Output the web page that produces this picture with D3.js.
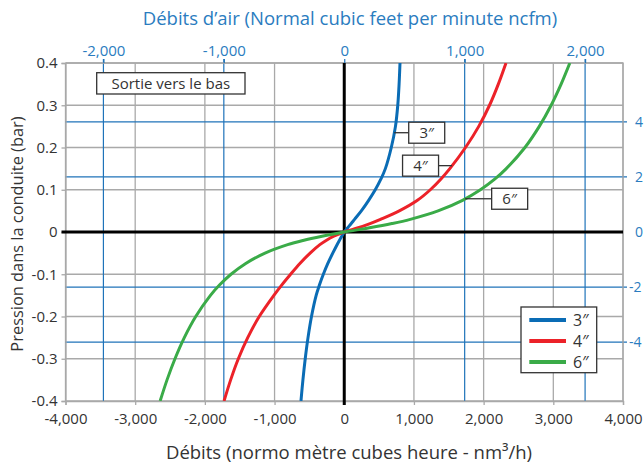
<!DOCTYPE html>
<html><head><meta charset="utf-8">
<script src="https://cdn.jsdelivr.net/npm/d3@7"></script>
<style>
body{margin:0;background:#fff}
svg{display:block;font-family:"Open Sans",sans-serif}
</style>
</head><body>
<svg id="chart" width="644" height="466"></svg>
<script>
// Pressure levels (bar) at which the flow of each pipe size is read
const pressures = [-0.4, -0.35, -0.3, -0.25, -0.2, -0.15, -0.125, -0.1, -0.075, -0.05, -0.03, -0.02, -0.01, 0,
                   0.01, 0.02, 0.03, 0.05, 0.075, 0.1, 0.125, 0.15, 0.2, 0.25, 0.3, 0.35, 0.4];
// Flow (nm³/h) for each pipe diameter at those pressures
const flow3in = [-621, -593, -560, -520, -470, -403, -355, -300, -237, -165, -103, -70, -35, 0,
                 50, 100, 148, 245, 350, 445, 525, 590, 675, 735, 768, 787, 800];
const flow4in = [-1725, -1630, -1520, -1385, -1220, -1010, -895, -770, -640, -490, -350, -260, -150, 0,
                 200, 370, 520, 790, 1050, 1235, 1385, 1515, 1740, 1930, 2085, 2211, 2321];
const flow6in = [-2642, -2543, -2429, -2295, -2131, -1920, -1787, -1625, -1419, -1137, -812, -592, -319, 0,
                 363, 683, 947, 1346, 1697, 1954, 2159, 2325, 2593, 2799, 2969, 3112, 3237];
const seriesNames = ["3″", "4″", "6″"];
const seriesColors = ["#0a6cb5", "#ec2229", "#3aab48"];
// Where each curve label is pinned (flow nm³/h, pressure bar)
const labelFlow = [717, 1547, 1735];
const labelPressure = [0.235, 0.157, 0.0787];

const flowTicks = [-4000, -3000, -2000, -1000, 0, 1000, 2000, 3000, 4000];
const pressureTicks = [-0.4, -0.3, -0.2, -0.1, 0, 0.1, 0.2, 0.3, 0.4];
const ncfmTicks = [-2000, -1000, 0, 1000, 2000];
const rightTicks = [-4, -2, 0, 2, 4];
const ncfmToNm3h = 1.728;
const rightUnitToBar = 0.0652;

const svg = d3.select("#chart");
const L = 65.5, R = 623, T = 63, B = 401;
const gray = "#a9a9a9", blue = "#1f73b9", blueText = "#2a7cc0", ink = "#333";

const x = d3.scaleLinear().domain([-4000, 4000]).range([L, R]);
const y = d3.scaleLinear().domain([-0.4, 0.4]).range([B, T]);
const xTop = d3.scaleLinear().domain([-4000 / ncfmToNm3h, 4000 / ncfmToNm3h]).range([L, R]);
const yRight = d3.scaleLinear().domain([-0.4 / rightUnitToBar, 0.4 / rightUnitToBar]).range([B, T]);

const fmt = f => d => f(d).replace("−", "-");

// gray grid
const grid = svg.append("g");
grid.selectAll(".gx").data(flowTicks.filter(d => d !== 0)).join("line")
  .attr("x1", d => x(d)).attr("x2", d => x(d)).attr("y1", T).attr("y2", B)
  .attr("stroke", gray).attr("stroke-width", 1.3);
grid.selectAll(".gy").data(pressureTicks.filter(d => d !== 0)).join("line")
  .attr("x1", L).attr("x2", R).attr("y1", d => y(d)).attr("y2", d => y(d))
  .attr("stroke", gray).attr("stroke-width", 1.3);
// blue grid for the secondary units
grid.selectAll(".bx").data(ncfmTicks.filter(d => d !== 0)).join("line")
  .attr("x1", d => xTop(d)).attr("x2", d => xTop(d)).attr("y1", T - 4).attr("y2", B)
  .attr("stroke", blue).attr("stroke-width", 1.2);
grid.selectAll(".by").data(rightTicks.filter(d => d !== 0)).join("line")
  .attr("x1", L).attr("x2", R + 4).attr("y1", d => yRight(d)).attr("y2", d => yRight(d))
  .attr("stroke", blue).attr("stroke-width", 1.2);
// frame top/right
svg.append("path").attr("d", `M${L},${T}H${R}V${B}`).attr("fill", "none").attr("stroke", gray).attr("stroke-width", 1.3);

// axes
const ax = svg.append("g").attr("transform", `translate(0,${B})`)
  .call(d3.axisBottom(x).tickValues(flowTicks).tickSize(4).tickPadding(5).tickFormat(fmt(d3.format(","))));
const ay = svg.append("g").attr("transform", `translate(${L},0)`)
  .call(d3.axisLeft(y).tickValues(pressureTicks).tickSize(4).tickPadding(4)
    .tickFormat(d => d === 0 ? "0" : fmt(d3.format(".1f"))(d)));
[ax, ay].forEach(g => {
  g.select(".domain").attr("stroke", gray).attr("stroke-width", 1.3);
  g.selectAll(".tick line").attr("stroke", gray).attr("stroke-width", 1.3);
  g.selectAll(".tick text").attr("fill", ink).style("font-size", "15px").style("font-family", "'Open Sans',sans-serif");
});
ax.selectAll(".tick text").attr("dy", "0.95em");

const at = svg.append("g").attr("transform", `translate(0,${T})`)
  .call(d3.axisTop(xTop).tickValues(ncfmTicks).tickSize(4).tickPadding(3).tickFormat(fmt(d3.format(","))));
at.select(".domain").remove();
at.selectAll(".tick line").attr("stroke", blue).attr("stroke-width", 1.2);
at.selectAll(".tick text").attr("fill", blueText).style("font-size", "15px").style("font-family", "'Open Sans',sans-serif");

// secondary pressure labels on the right
svg.append("g").selectAll("text").data(rightTicks).join("text")
  .attr("x", d => d < 0 ? R + 6 : R + 12).attr("y", d => yRight(d)).attr("dy", "0.35em")
  .attr("fill", blueText).style("font-size", "14px")
  .text(d => fmt(d3.format("d"))(d));

// zero axes in black
svg.append("line").attr("x1", L - 4).attr("x2", R).attr("y1", y(0)).attr("y2", y(0)).attr("stroke", "#000").attr("stroke-width", 3);
svg.append("line").attr("x1", x(0)).attr("x2", x(0)).attr("y1", T).attr("y2", B + 4).attr("stroke", "#000").attr("stroke-width", 3);

// curves
svg.append("defs").append("clipPath").attr("id", "plot").append("rect")
  .attr("x", L).attr("y", T).attr("width", R - L).attr("height", B - T);
const flows = [flow3in, flow4in, flow6in];
const line = d3.line().x(d => x(d[0])).y(d => y(d[1])).curve(d3.curveCatmullRom.alpha(0.5));
svg.append("g").attr("clip-path", "url(#plot)").selectAll("path").data(flows).join("path")
  .attr("d", f => line(f.map((q, i) => [q, pressures[i]])))
  .attr("fill", "none").attr("stroke", (d, i) => seriesColors[i]).attr("stroke-width", 3);

// curve labels with leader lines
const boxW = 36, boxH = 21;
const offsets = [{dx: 14.5, side: 1}, {dx: -13.5, side: -1}, {dx: 26.5, side: 1}];
labelFlow.forEach((q, i) => {
  const px = x(q), py = y(labelPressure[i]);
  const o = offsets[i];
  const edge = px + o.dx;
  const bx = o.side > 0 ? edge : edge - boxW;
  const g = svg.append("g");
  g.append("line").attr("x1", px).attr("x2", edge).attr("y1", py).attr("y2", py).attr("stroke", ink).attr("stroke-width", 1.3);
  g.append("rect").attr("x", bx).attr("y", py - boxH / 2).attr("width", boxW).attr("height", boxH)
    .attr("fill", "#fff").attr("stroke", ink).attr("stroke-width", 1.3);
  g.append("text").attr("x", bx + boxW / 2).attr("y", py).attr("dy", "0.36em").attr("text-anchor", "middle")
    .attr("fill", ink).style("font-size", "15px").text(seriesNames[i]);
});

// outflow note
const note = svg.append("g");
note.append("rect").attr("x", 96.7).attr("y", 72.7).attr("width", 148.3).attr("height", 21.3)
  .attr("fill", "#fff").attr("stroke", ink).attr("stroke-width", 1.3);
note.append("text").attr("x", 170.8).attr("y", 83.4).attr("dy", "0.36em").attr("text-anchor", "middle")
  .attr("fill", ink).style("font-size", "15px").text("Sortie vers le bas");

// legend
const lg = svg.append("g").attr("transform", "translate(521,307)");
lg.append("rect").attr("width", 75.7).attr("height", 65.7).attr("fill", "#fff").attr("stroke", ink).attr("stroke-width", 1.3);
seriesNames.forEach((n, i) => {
  const yy = 13 + i * 21;
  lg.append("line").attr("x1", 8.3).attr("x2", 45).attr("y1", yy).attr("y2", yy)
    .attr("stroke", seriesColors[i]).attr("stroke-width", 4);
  lg.append("text").attr("x", 52).attr("y", yy).attr("dy", "0.36em").attr("fill", ink)
    .style("font-size", "16px").text(n);
});

// titles
svg.append("text").attr("x", 350).attr("y", 25).attr("text-anchor", "middle").attr("fill", blueText)
  .style("font-size", "18.5px").text("Débits d’air (Normal cubic feet per minute ncfm)");
svg.append("text").attr("x", 349).attr("y", 459).attr("text-anchor", "middle").attr("fill", ink)
  .style("font-size", "18.5px").text("Débits (normo mètre cubes heure - nm³/h)");
svg.append("text").attr("transform", "translate(23,234) rotate(-90)").attr("text-anchor", "middle").attr("fill", ink)
  .style("font-size", "16.4px").text("Pression dans la conduite (bar)");
</script>
</body></html>
